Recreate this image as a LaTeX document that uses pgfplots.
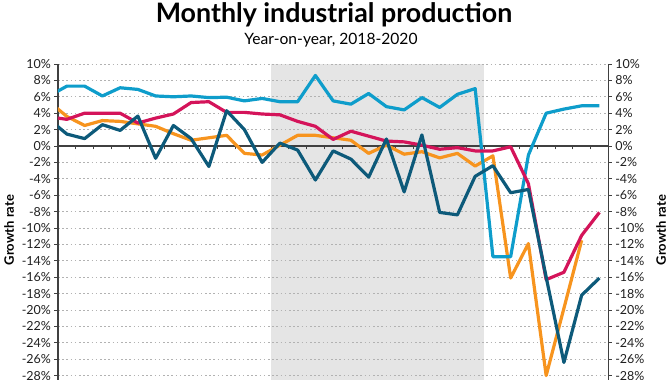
\documentclass[border=0pt]{standalone}
\usepackage{fontspec}
\setmainfont{Lato}
\usepackage{pgfplots}
\pgfplotsset{compat=1.18}
\definecolor{cLight}{HTML}{0E9DCB}
\definecolor{cPink}{HTML}{D4145A}
\definecolor{cOrange}{HTML}{F7941E}
\definecolor{cDark}{HTML}{0D5A7A}
\begin{document}
\begin{tikzpicture}[x=1pt,y=1pt]
\pgfplotsset{common/.style={
  scale only axis,
  width=550.3pt, height=316pt,
  xmin=0.5, xmax=31.5, ymin=-28.54, ymax=10,
  ytick={-28,-26,...,10},
  yticklabel={\pgfmathprintnumber{\tick}\%},
  /pgf/number format/assume math mode=true,
  yticklabel style={font=\fontsize{12.5}{14}\selectfont, text=black!88},
  tick align=outside, major tick length=3.5pt,
  tick style={black!75, line width=0.9pt},
  axis line style={black!75, line width=1.2pt},
}}
\begin{axis}[common, name=ax, set layers,
  axis y line*=left, axis x line*=middle,
  xtick={1.5,2.5,...,30.5}, xticklabels={},
  ymajorgrids, grid style={gray!60, line width=0.9pt, dash pattern=on 1.6pt off 2.6pt},
  clip=true]
\addplot[on layer=axis background, fill=gray!20, draw=none] coordinates {(12.5,-40) (12.5,10) (24.5,10) (24.5,-40)} -- cycle;
\addplot[cOrange, line width=3.2pt, line join=round] coordinates {
(0,5.4)(1,3.6)(2,2.5)(3,3.1)(4,3.0)(5,2.7)(6,2.4)(7,1.5)(8,0.7)(9,1.0)(10,1.3)
(11,-0.9)(12,-1.1)(13,0.1)(14,1.3)(15,1.3)(16,1.0)(17,0.7)(18,-0.9)(19,0.1)(20,-1.0)
(21,-0.7)(22,-1.45)(23,-0.9)(24,-2.45)(25,-1.2)(26,-16.1)(27,-11.9)(28,-28.0)(29,-19.8)(30,-11.5)};
\addplot[cLight, line width=3.2pt, line join=round] coordinates {
(0,6.1)(1,7.3)(2,7.3)(3,6.1)(4,7.1)(5,6.9)(6,6.1)(7,6.0)(8,6.1)(9,5.9)(10,5.95)
(11,5.5)(12,5.8)(13,5.4)(14,5.4)(15,8.6)(16,5.5)(17,5.1)(18,6.4)(19,4.8)(20,4.4)
(21,5.9)(22,4.7)(23,6.3)(24,7.0)(25,-13.5)(26,-13.5)(27,-1.1)(28,4.0)(29,4.5)(30,4.9)(31,4.9)};
\addplot[cPink, line width=3.2pt, line join=round] coordinates {
(0,3.55)(1,3.25)(2,4.0)(3,4.0)(4,4.0)(5,2.8)(6,3.4)(7,3.9)(8,5.3)(9,5.4)(10,4.1)
(11,4.1)(12,3.9)(13,3.8)(14,3.0)(15,2.4)(16,0.8)(17,1.8)(18,1.2)(19,0.6)(20,0.5)
(21,0.1)(22,-0.4)(23,-0.2)(24,-0.6)(25,-0.6)(26,-0.1)(27,-4.6)(28,-16.3)(29,-15.4)(30,-10.9)(31,-8.1)};
\addplot[cDark, line width=3.2pt, line join=round] coordinates {
(0,3.25)(1,1.45)(2,0.9)(3,2.6)(4,1.9)(5,3.65)(6,-1.5)(7,2.5)(8,0.9)(9,-2.5)(10,4.3)
(11,2.0)(12,-2.0)(13,0.35)(14,-0.5)(15,-4.15)(16,-0.6)(17,-1.6)(18,-3.8)(19,0.85)(20,-5.6)
(21,1.35)(22,-8.1)(23,-8.4)(24,-3.7)(25,-2.4)(26,-5.7)(27,-5.3)(28,-16.0)(29,-26.4)(30,-18.2)(31,-16.1)};
\coordinate (O) at (rel axis cs:0,0);
\end{axis}
\begin{axis}[common, at={(ax.south west)}, anchor=south west,
  axis y line*=right, axis x line*=bottom, x axis line style={draw=none}, xtick=\empty]
\addplot[draw=none] coordinates {(1,0) (31,0)};
\end{axis}
\begin{scope}[shift={(O)}, xshift=-58pt]
\node[font=\bfseries\fontsize{26.8}{30}\selectfont] at (334,365) {Monthly industrial production};
\node[font=\fontsize{15.6}{18}\selectfont] at (331,339.5) {Year-on-year, 2018-2020};
\node[rotate=90, font=\bfseries\fontsize{13}{15}\selectfont] at (9,150) {Growth rate};
\node[rotate=90, font=\bfseries\fontsize{13}{15}\selectfont] at (661,150) {Growth rate};
\pgfresetboundingbox
\path[use as bounding box] (0,0) rectangle (670,380);
\end{scope}
\end{tikzpicture}
\end{document}
